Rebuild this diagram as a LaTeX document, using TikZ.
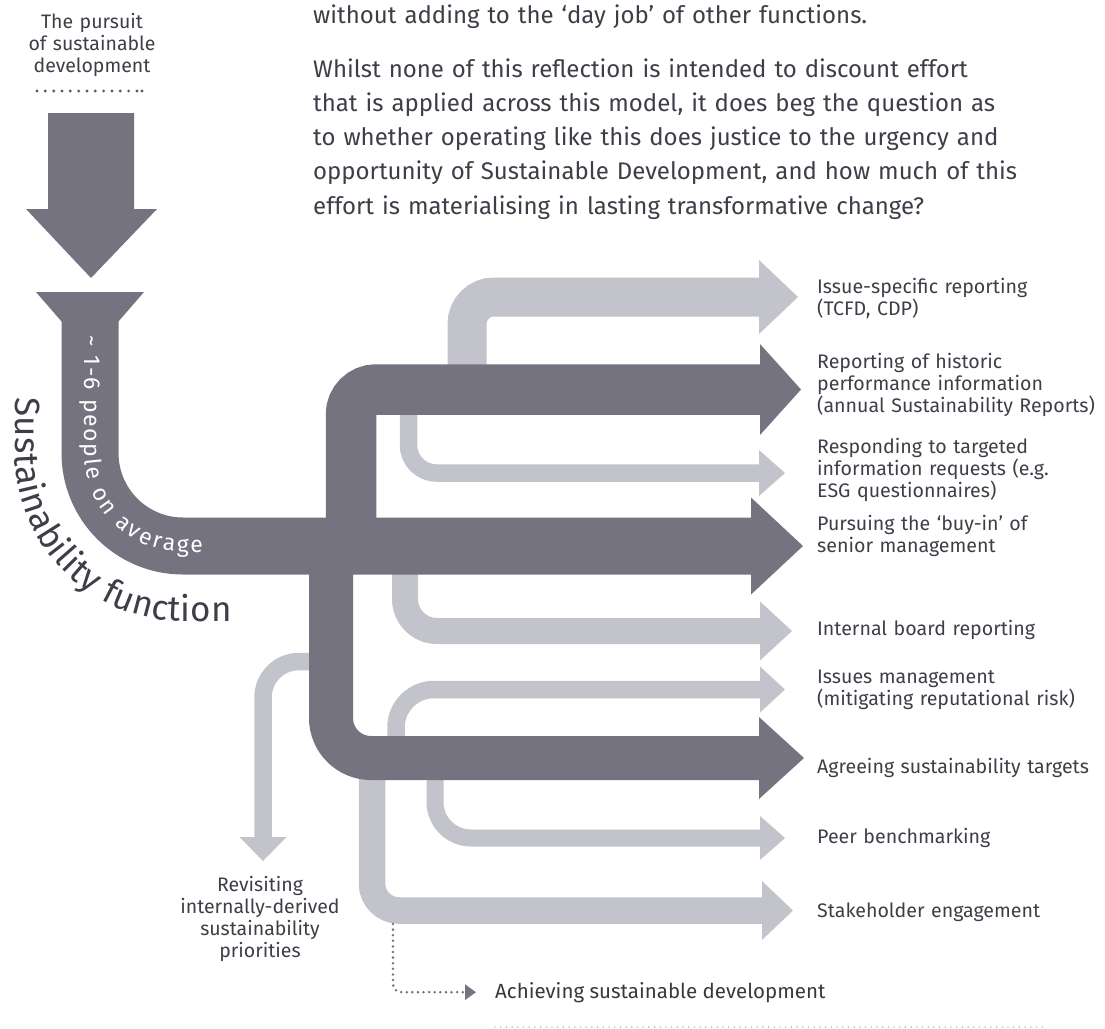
\documentclass[tikz,border=0pt]{standalone}
\usepackage{fontspec}
\setmainfont{Fira Sans}
\usetikzlibrary{decorations.text,arrows.meta}
\definecolor{flowdark}{HTML}{74737F}
\definecolor{flowlight}{HTML}{C3C4CB}
\definecolor{ink}{HTML}{3E3E48}
\definecolor{rulegrey}{HTML}{8E8E97}
\tikzstyle{lightflow}=[draw=flowlight,shorten >=-0.6pt]
\tikzstyle{darkflow}=[draw=flowdark,shorten >=-0.6pt]
\tikzstyle{tag}=[anchor=base west,text width=290pt,align=left,inner sep=0pt,
  text=ink,font=\fontsize{19.6}{22}\selectfont]
\tikzstyle{body}=[anchor=base west,text width=800pt,align=left,inner sep=0pt,
  text=ink,font=\fontsize{24}{34.3}\selectfont]
\tikzstyle{dotflow}=[draw=flowdark,line width=2.8pt,line cap=round,
  dash pattern=on 0pt off 5.6pt,rounded corners=8]
\newcommand{\newFlow}[6]{\draw[#1,line width=#2,rounded corners=#3] (#4) #5 (#6);}
\newcommand{\newHead}[5]{\fill[#1,shift={(#2)},rotate=#5] (0,#3) -- (#4,0) -- (0,-#3) -- cycle;}

\begin{document}
\begin{tikzpicture}[x=1pt,y=-1pt]
  \useasboundingbox (0,0) rectangle (1105,1028);
  % text above the diagram
  \node[body] (intro) at (313,23) {without adding to the ‘day job’ of other functions.};
  \node[body] (reflect) at (313,77) {Whilst none of this reflection is intended to discount effort\\
    that is applied across this model, it does beg the question as\\
    to whether operating like this does justice to the urgency and\\
    opportunity of Sustainable Development, and how much of this\\
    effort is materialising in lasting transformative change?};
  \node[anchor=base,text width=150pt,align=center,inner sep=0pt,text=ink,
    font=\fontsize{19.5}{22}\selectfont] (pursuit) at (92,28) {The pursuit\\of sustainable\\development};
  \draw[ink!85,line width=3.2pt,line cap=round,dash pattern=on 0pt off 8.33pt] (37,91) -- (137,91);
  \fill[ink!85] (142,91) circle (1.6);
  % input arrow and funnel
  \fill[flowdark] (48,113) -- (134,113) -- (134,209) -- (157,209) -- (91,278)
    -- (26,209) -- (48,209) -- cycle;
  \fill[flowdark] (36,292) -- (144,292) -- (118,322) -- (62,322) -- cycle;
  % coordinates of the flows
  \coordinate (srcA) at (90,318);
  \coordinate (buyin) at (751,546);
  \coordinate (trunkU) at (351,546);
  \coordinate (histo) at (760,389.5);
  \coordinate (trunkL) at (331,546);
  \coordinate (target) at (759,758);
  \coordinate (tcfdS) at (467,389);
  \coordinate (tcfd) at (759,297);
  \coordinate (esgS) at (408.5,389);
  \coordinate (esg) at (759,473);
  \coordinate (boardS) at (405,546);
  \coordinate (board) at (760,631);
  \coordinate (issueS) at (396,758);
  \coordinate (issue) at (760,689.5);
  \coordinate (peerS) at (435,758);
  \coordinate (peer) at (760,838);
  \coordinate (stakeS) at (372,758);
  \coordinate (stake) at (762,910.5);
  \coordinate (reviS) at (331,661.5);
  \coordinate (revi) at (263,837);
  \coordinate (dotS) at (393,924);
  % light flows
  \newFlow{lightflow}{39}{27}{tcfdS}{|-}{tcfd}
  \newFlow{lightflow}{17.5}{28}{esgS}{|-}{esg}
  \newFlow{lightflow}{26}{32}{boardS}{|-}{board}
  \newFlow{lightflow}{17.5}{38}{issueS}{|-}{issue}
  \newFlow{lightflow}{17}{36}{peerS}{|-}{peer}
  \newFlow{lightflow}{26.5}{27}{stakeS}{|-}{stake}
  \newFlow{lightflow}{17.5}{36}{reviS}{-|}{revi}
  \newHead{flowlight}{tcfd}{37}{39}{0}
  \newHead{flowlight}{esg}{23}{26}{0}
  \newHead{flowlight}{board}{29.5}{32}{0}
  \newHead{flowlight}{issue}{23}{25}{0}
  \newHead{flowlight}{peer}{22}{25}{0}
  \newHead{flowlight}{stake}{29.5}{31}{0}
  \newHead{flowlight}{revi}{23.5}{24}{-90}
  % dark flows
  \newFlow{darkflow}{57}{93}{srcA}{|-}{buyin}
  \newFlow{darkflow}{50.5}{25}{trunkU}{|-}{histo}
  \newFlow{darkflow}{44}{40}{trunkL}{|-}{target}
  \newHead{flowdark}{buyin}{48.5}{52}{0}
  \newHead{flowdark}{histo}{45.5}{41}{0}
  \newHead{flowdark}{target}{41}{45}{0}
  % texts along the function
  \path[decorate,rounded corners=93,decoration={text along path,text align=fit to path,raise=-6pt,
    text={|\fontsize{23}{23}\selectfont\color{white}|{\textasciitilde} 1-6 people on average}}]
    (90,335) |- (203,546);
  \path[decorate,rounded corners=168,decoration={text along path,text align=fit to path,
    text={|\fontsize{35}{35}\selectfont\color{ink}|Sustainability function}}]
    (15,397) |- (232,621);
  % labels
  \node[tag] (tcfdL) at (817,293) {Issue-specific reporting\\(TCFD, CDP)};
  \node[tag] (histoL) at (817,368) {Reporting of historic\\performance information\\(annual Sustainability Reports)};
  \node[tag] (esgL) at (817,453) {Responding to targeted\\information requests (e.g.\\ESG questionnaires)};
  \node[tag] (buyinL) at (817,530) {Pursuing the ‘buy-in’ of\\senior management};
  \node[tag] (boardL) at (817,635) {Internal board reporting};
  \node[tag] (issueL) at (817,683) {Issues management\\(mitigating reputational risk)};
  \node[tag] (targetL) at (817,773) {Agreeing sustainability targets};
  \node[tag] (peerL) at (817,843) {Peer benchmarking};
  \node[tag] (stakeL) at (817,917) {Stakeholder engagement};
  \node[anchor=base,text width=170pt,align=center,inner sep=0pt,text=ink,
    font=\fontsize{19.5}{22}\selectfont] (reviL) at (260,891) {Revisiting\\internally-derived\\sustainability\\priorities};
  % outcome
  \node[anchor=base west,inner sep=0pt,text=ink!90!black,font=\fontsize{20.5}{22}\selectfont]
    (achieve) at (495,998) {Achieving sustainable development};
  \draw[dotflow,-{Triangle[length=11pt,width=15pt]},shorten >=19pt] (dotS) |- (achieve.west);
  \draw[rulegrey,line width=1.4pt,line cap=round,dash pattern=on 0pt off 5.7pt] (495,1027) -- (1044,1027);
\end{tikzpicture}
\end{document}
